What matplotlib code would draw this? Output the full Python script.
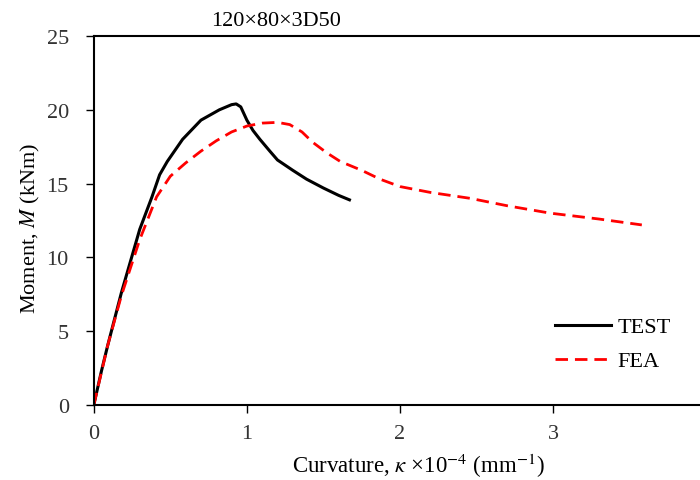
import numpy as np
import matplotlib
matplotlib.use('Agg')
import matplotlib.pyplot as plt

# Data
test_curv = [0, 0.05, 0.09, 0.18, 0.30, 0.38, 0.43, 0.48, 0.58, 0.70, 0.82, 0.90, 0.93,
             0.96, 1.00, 1.04, 1.085, 1.15, 1.20, 1.30, 1.39, 1.50, 1.60, 1.67]
test_moment = [0, 2.3, 4.0, 7.6, 11.9, 14.1, 15.6, 16.5, 18.0, 19.3, 20.0, 20.35, 20.4,
               20.2, 19.3, 18.6, 18.0, 17.2, 16.6, 15.9, 15.3, 14.7, 14.2, 13.9]

fea_curv = [0, 0.09, 0.18, 0.30, 0.41, 0.50, 0.60, 0.70, 0.80, 0.90, 1.00, 1.10, 1.20,
            1.28, 1.36, 1.43, 1.52, 1.61, 1.75, 1.87, 2.00, 2.20, 2.46, 2.70, 2.98,
            3.30, 3.58]
fea_moment = [0, 4.0, 7.4, 11.2, 14.1, 15.5, 16.4, 17.2, 17.9, 18.5, 18.9, 19.1, 19.15,
              19.0, 18.5, 17.8, 17.1, 16.5, 15.9, 15.3, 14.8, 14.4, 14.0, 13.5, 13.0,
              12.6, 12.2]

plt.rcParams['font.family'] = ['Liberation Serif', 'DejaVu Serif']
plt.rcParams['mathtext.fontset'] = 'stix'

fig = plt.figure(figsize=(7, 4.81), dpi=100)
ax = fig.add_axes([0.134, 0.156, 0.866, 0.767])

ax.plot(test_curv, test_moment, color='black', lw=2.2, label='TEST')
ax.plot(fea_curv, fea_moment, color='red', lw=2, ls=(0, (4.5, 2.5)), label='FEA')

ax.set_xlim(0, 3.96)
ax.set_ylim(0, 25)
ax.set_xticks([0, 1, 2, 3])
ax.set_yticks([0, 5, 10, 15, 20, 25])
ax.tick_params(labelsize=16, labelcolor='#333333', length=6, width=1)
ax.tick_params(axis='y', pad=12)
ax.tick_params(axis='x', pad=8)
ax.spines['right'].set_visible(False)
for s in ['left', 'bottom', 'top']:
    ax.spines[s].set_linewidth(1.5)

ax.set_title('120×80×3D50', fontsize=16, x=0.30, pad=8)
ax.set_xlabel(r'Curvature, $\kappa$ ×10$^{-4}$ (mm$^{-1}$)', fontsize=16.5)
ax.xaxis.set_label_coords(0.535, -0.125)
ax.set_ylabel(r'Moment, $M$ (kNm)', fontsize=16)
ax.yaxis.set_label_coords(-0.085, 0.48)

ax.legend(loc='center left', bbox_to_anchor=(0.761, 0.165), frameon=False,
          fontsize=16, handlelength=2.5, labelspacing=0.6, handletextpad=0.3,
          borderpad=0, borderaxespad=0)

fig.savefig('out.png', dpi=100)
